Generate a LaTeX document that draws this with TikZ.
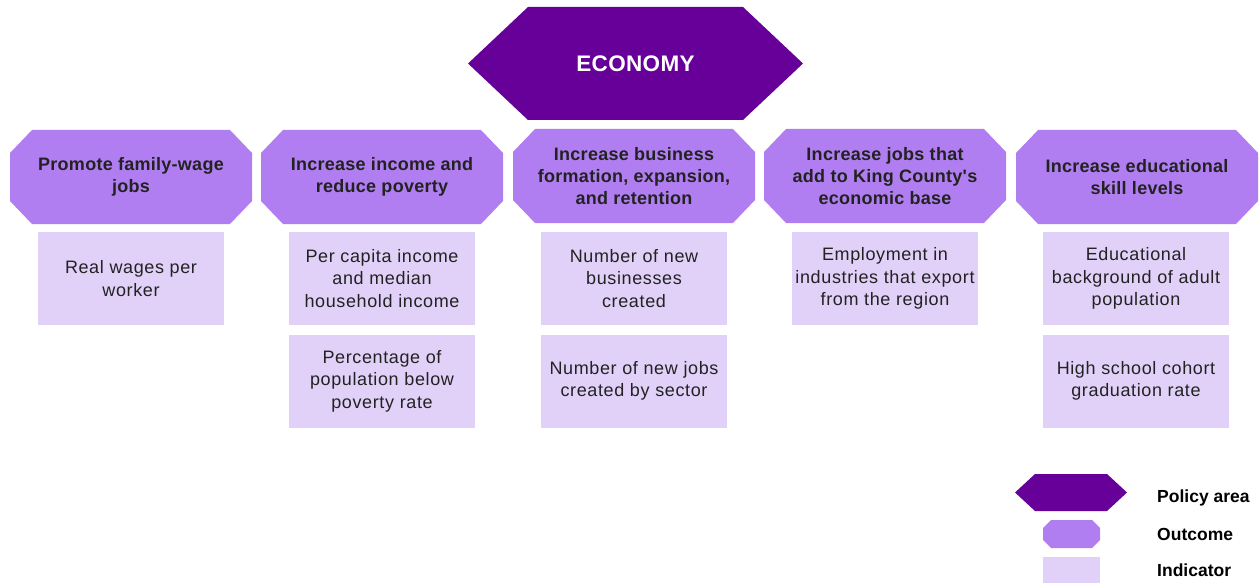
\documentclass[tikz,border=0pt]{standalone}
\usepackage{fontspec}
\setmainfont{Liberation Sans}
\newfontfamily\widesans[LetterSpace=3.5]{Liberation Sans}
\newfontfamily\boldsans[LetterSpace=1.5]{Liberation Sans}
\definecolor{policy}{HTML}{660099}
\definecolor{outcomec}{HTML}{B07EF0}
\definecolor{indicc}{HTML}{E1D1F8}
\definecolor{inktext}{HTML}{222222}
\begin{document}
\begin{tikzpicture}[x=1pt,y=-1pt,
  cut x/.store in=\cutx, cut y/.store in=\cuty,
  cut x=22pt, cut y=23pt,
  % octagon with cut corners, drawn inside the node's rectangle
  octofill/.style={path picture={
    \fill[#1] ([xshift=\cutx]path picture bounding box.north west)
      -- ([xshift=-\cutx]path picture bounding box.north east)
      -- ([yshift=-\cuty]path picture bounding box.north east)
      -- ([yshift=\cuty]path picture bounding box.south east)
      -- ([xshift=-\cutx]path picture bounding box.south east)
      -- ([xshift=\cutx]path picture bounding box.south west)
      -- ([yshift=\cuty]path picture bounding box.south west)
      -- ([yshift=-\cuty]path picture bounding box.north west) -- cycle;}},
  % hexagon pointed at west and east
  hexfill/.style={path picture={
    \fill[#1] ([xshift=\cutx]path picture bounding box.north west)
      -- ([xshift=-\cutx]path picture bounding box.north east)
      -- (path picture bounding box.east)
      -- ([xshift=-\cutx]path picture bounding box.south east)
      -- ([xshift=\cutx]path picture bounding box.south west)
      -- (path picture bounding box.west) -- cycle;}},
  policybox/.style={inner sep=0pt, minimum width=335pt, minimum height=113pt,
    cut x=60pt, hexfill=policy, text=white,
    font=\boldsans\bfseries\fontsize{22.5}{26}\selectfont},
  outcomebox/.style={inner sep=0pt, minimum width=242pt, minimum height=94pt,
    cut x=22pt, cut y=23pt, octofill=outcomec, align=center, text=inktext,
    font=\boldsans\bfseries\fontsize{18}{22.3}\selectfont},
  indicbox/.style={inner sep=0pt, minimum width=186pt, minimum height=93pt,
    fill=indicc, align=center, text=inktext,
    font=\widesans\fontsize{18}{22.5}\selectfont},
  legendlabel/.style={anchor=west, inner sep=0pt, text=black,
    font=\bfseries\fontsize{17.5}{20}\selectfont}
]
\useasboundingbox (0,0) rectangle (1260,583);

% policy area
\node[policybox] (economy) at (635.5,63.5) {ECONOMY};

% outcomes
\node[outcomebox] (o1) at (131,177) {Promote family-wage\\jobs};
\node[outcomebox] (o2) at (382,177) {Increase income and\\reduce poverty};
\node[outcomebox] (o3) at (634,176) {Increase business\\formation, expansion,\\and retention};
\node[outcomebox] (o4) at (885,176) {Increase jobs that\\add to King County's\\economic base};
\node[outcomebox] (o5) at (1137,177) {Increase educational\\skill levels};

% indicators
\node[indicbox] (i1a) at (131,278.5) {Real wages per\\worker};
\node[indicbox] (i2a) at (382,278.5) {Per capita income\\and median\\household income};
\node[indicbox] (i2b) at (382,381) {Percentage of\\population below\\poverty rate};
\node[indicbox] (i3a) at (634,278.5) {Number of new\\businesses\\created};
\node[indicbox] (i3b) at (634,381) {Number of new jobs\\created by sector};
\node[indicbox] (i4a) at (885,278.5) {Employment in\\industries that export\\from the region};
\node[indicbox] (i5a) at (1136,278.5) {Educational\\background of adult\\population};
\node[indicbox] (i5b) at (1136,381) {High school cohort\\graduation rate};

% legend
\node[inner sep=0pt, minimum width=112pt, minimum height=37pt, cut x=20pt,
  hexfill=policy] (legpolicy) at (1071,492.5) {};
\node[inner sep=0pt, minimum width=57pt, minimum height=28pt, cut x=8pt, cut y=8pt,
  octofill=outcomec] (legoutcome) at (1071.5,534) {};
\node[inner sep=0pt, minimum width=57pt, minimum height=27pt, fill=indicc]
  (legindic) at (1071.5,570.5) {};
\node[legendlabel] (lblpolicy) at (1157,498) {Policy area};
\node[legendlabel] (lbloutcome) at (1157,534) {Outcome};
\node[legendlabel] (lblindic) at (1157,570) {Indicator};
\end{tikzpicture}
\end{document}
